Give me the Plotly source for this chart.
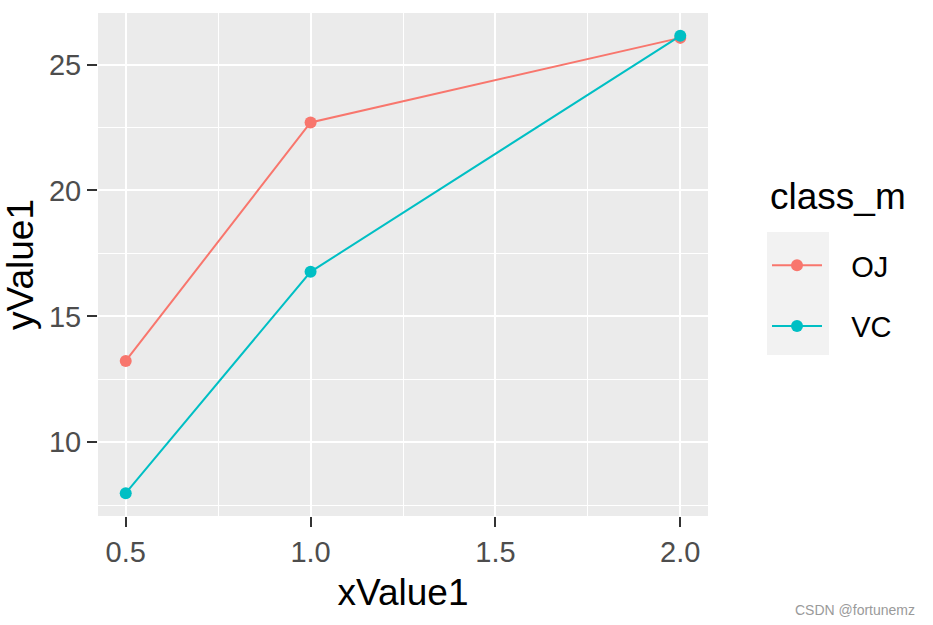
import plotly.graph_objects as go

doses = [0.5, 1.0, 2.0]
oj_values = [13.23, 22.70, 26.06]
vc_values = [7.98, 16.77, 26.14]
series_names = ["OJ", "VC"]
x_ticks = [0.5, 1.0, 1.5, 2.0]
x_tick_labels = ["0.5", "1.0", "1.5", "2.0"]
y_ticks = [10, 15, 20, 25]
y_tick_labels = ["10", "15", "20", "25"]

colors = {"OJ": "#F8766D", "VC": "#00BFC4"}
FONT = "Liberation Sans, Arial, sans-serif"
PAD = "\u00a0\u00a0\u00a0"

fig = go.Figure()
for i, (name, vals) in enumerate(zip(series_names, [oj_values, vc_values])):
    fig.add_trace(go.Scatter(
        x=doses, y=vals, mode="lines+markers", name=PAD + name,
        legendgroup=name,
        line=dict(color=colors[name], width=2),
        marker=dict(color=colors[name], size=12),
    ))

axis_common = dict(
    showline=False, zeroline=False,
    gridcolor="white", gridwidth=2,
    ticks="outside", ticklen=10, tickwidth=2, tickcolor="#333333",
    tickfont=dict(family=FONT, size=29, color="#4D4D4D"),
)

PW, PH, L, T = 610, 503, 98, 13

def px(x):
    return (x - L) / PW

def py(y):
    return (T + PH - y) / PH

fig.update_layout(
    width=933, height=625,
    margin=dict(l=98, r=225, t=13, b=109),
    paper_bgcolor="white", plot_bgcolor="#EBEBEB",
    font=dict(family=FONT),
    xaxis=dict(
        range=[0.425, 2.075], tickvals=x_ticks, ticktext=x_tick_labels,
        minor=dict(dtick=0.25, tick0=0, showgrid=True, gridcolor="white", gridwidth=1, ticks=""),
        title=dict(text="xValue1", font=dict(family=FONT, size=37, color="black"), standoff=12),
        **axis_common,
    ),
    yaxis=dict(
        range=[7.072, 27.048], tickvals=y_ticks, ticktext=y_tick_labels,
        minor=dict(dtick=2.5, tick0=0, showgrid=True, gridcolor="white", gridwidth=1, ticks=""),
        title=dict(text="yValue1", font=dict(family=FONT, size=37, color="black"), standoff=10),
        **axis_common,
    ),
    legend=dict(
        x=px(767), y=py(240), xanchor="left", yanchor="top",
        font=dict(family=FONT, size=29, color="black"),
        tracegroupgap=20, traceorder="grouped", itemwidth=50,
        bgcolor="rgba(0,0,0,0)",
    ),
    shapes=[dict(type="rect", xref="paper", yref="paper",
                 x0=px(767), x1=px(829), y0=py(355), y1=py(232),
                 fillcolor="#F2F2F2", line=dict(width=0), layer="below")],
    annotations=[
        dict(text="class_m", xref="paper", yref="paper", x=px(768), y=py(196),
             xanchor="left", yanchor="middle", showarrow=False,
             font=dict(family=FONT, size=37, color="black")),
        dict(text="CSDN @fortunemz", xref="paper", yref="paper",
             x=px(917), y=py(610), xanchor="right", yanchor="middle",
             showarrow=False, font=dict(family=FONT, size=14, color="#9A9A9A")),
    ],
)

fig.write_html("out.html")
